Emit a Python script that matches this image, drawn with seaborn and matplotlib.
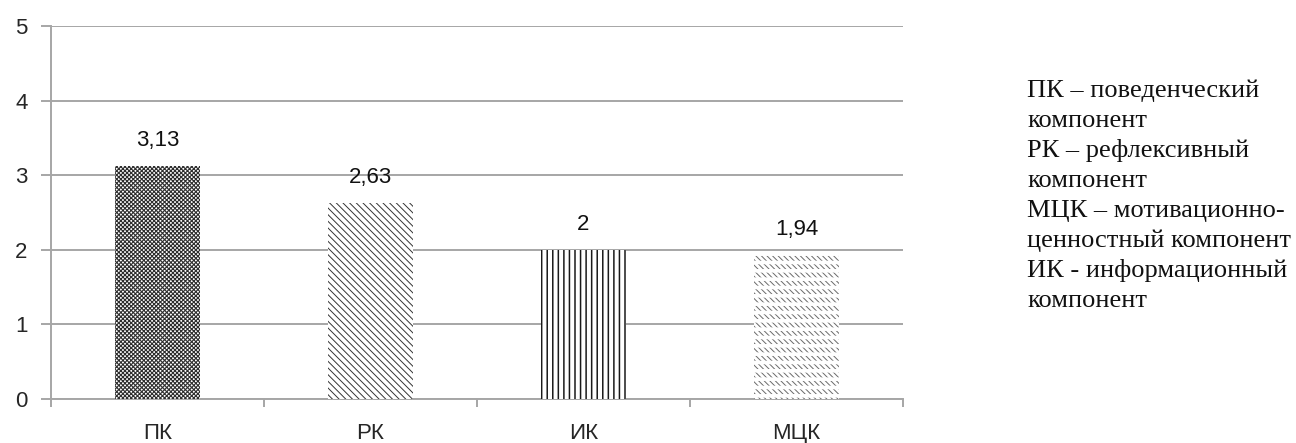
import numpy as np
import pandas as pd
import matplotlib
matplotlib.use("Agg")
import matplotlib.pyplot as plt
import seaborn as sns

categories = ["ПК", "РК", "ИК", "МЦК"]
values = [3.13, 2.63, 2.0, 1.94]
value_labels = ["3,13", "2,63", "2", "1,94"]
legend_lines = [
    "ПК – поведенческий",
    "компонент",
    "РК – рефлексивный",
    "компонент",
    "МЦК – мотивационно-",
    "ценностный компонент",
    "ИК - информационный",
    "компонент",
]

sns.set_style("white")
plt.rcParams["font.family"] = ["Liberation Sans", "DejaVu Sans"]
plt.rcParams["hatch.linewidth"] = 0.7

df = pd.DataFrame({"cat": categories, "val": values})
grid_col = "#a6a6a6"

fig = plt.figure(figsize=(12.96, 4.43), dpi=100)
ax = fig.add_axes([51 / 1296, 1 - 399 / 443, 852 / 1296, 373 / 443])

sns.barplot(data=df, x="cat", y="val", color="white", width=0.4, ax=ax,
            linewidth=0, zorder=3)

# pattern fills, one per bar
hatches = ["xxxxxxxx", "\\\\\\\\\\", "|||", "\\\\\\\\\\\\"]
edge_cols = ["#2e2e2e", "#333333", "#1a1a1a", "#6a6a6a"]
hatch_lw = [0.8, 0.7, 1.1, 0.7]
for bar, h, ec, lw in zip(ax.patches, hatches, edge_cols, hatch_lw):
    bar.set_hatch(h)
    bar.set_edgecolor(ec)
    bar.set_linewidth(0)
    if hasattr(bar, "set_hatch_linewidth"):
        bar.set_hatch_linewidth(lw)

# МЦК: break the diagonals into short rows with white horizontal stripes
sns.barplot(data=df.iloc[[3]], x="cat", y="val", color="white", width=0.4,
            ax=ax, linewidth=0, zorder=4, order=categories)
top_bar = ax.patches[-1]
top_bar.set_facecolor("none")
top_bar.set_hatch("--")
top_bar.set_edgecolor("white")
top_bar.set_linewidth(0)
if hasattr(top_bar, "set_hatch_linewidth"):
    top_bar.set_hatch_linewidth(2.6)

for i, (v, lab) in enumerate(zip(values, value_labels)):
    ax.annotate(lab, xy=(i, v), xytext=(0, 14), textcoords="offset points",
                ha="center", va="baseline", fontsize=16, color="#111111")

ax.set_ylim(0, 5)
ax.set_xlim(-0.5, 3.5)
ax.set_yticks(range(6))
ax.yaxis.grid(True, color=grid_col, linewidth=1.4, zorder=0)
ax.set_axisbelow(True)

# category boundary ticks on x axis
ax.set_xticks(np.arange(-0.5, 4, 1), minor=True)
ax.tick_params(axis="x", which="minor", length=6, color=grid_col, width=1.4, direction="out")
ax.tick_params(axis="x", which="major", length=0, labelsize=16, pad=17)
ax.tick_params(axis="y", length=7, color=grid_col, width=1.4, labelsize=16, pad=10,
               direction="out")
ax.yaxis.set_ticks_position("left")
ax.xaxis.set_ticks_position("bottom")

for side in ["top", "right"]:
    ax.spines[side].set_visible(False)
for side in ["left", "bottom"]:
    ax.spines[side].set_color(grid_col)
    ax.spines[side].set_linewidth(1.4)

ax.set_xlabel("")
ax.set_ylabel("")

# side note, one line at a time (baselines ~30 px apart)
for k, line in enumerate(legend_lines):
    fig.text(1027 / 1296, 1 - (97 + 30 * k) / 443, line, ha="left", va="baseline",
             fontsize=19, family=["Liberation Serif", "DejaVu Serif"], color="#111111")

fig.savefig("out.png", dpi=100)
